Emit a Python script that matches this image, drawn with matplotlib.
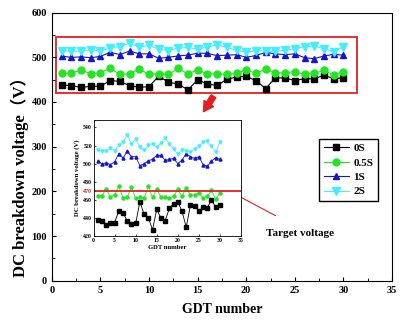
import matplotlib
matplotlib.use("Agg")
from matplotlib import pyplot as plt
import numpy as np

plt.rcParams['font.family'] = ['Liberation Serif', 'DejaVu Serif']
plt.rcParams['font.weight'] = 'bold'

# data
gdt = list(range(1, 31))
v_0s = [438, 436.5, 432.5, 435, 435, 448, 446, 436.5, 433, 434,
        458, 444, 440.5, 427, 449.5, 440, 437, 450.5, 456, 457.5,
        447.5, 430, 454, 453.5, 448, 452, 451.5, 460, 452, 454]
v_05s = [463.8, 464.6, 472, 462.7, 465.7, 475, 462, 463, 474, 461.6,
         463.5, 461.6, 475, 462.7, 472, 462.7, 462.7, 462, 464, 471.5,
         464, 473.4, 465, 465.3, 468, 461.6, 464, 470.5, 460.5, 467.5]
v_1s = [503, 499.6, 501, 499, 502, 511, 506, 514, 507.7, 507.7,
        497.7, 500, 503, 505, 509, 509, 503.6, 504.7, 505.8, 500,
        504, 511, 507.7, 505.8, 507.7, 499, 497, 503, 506.5, 504.7]
v_2s = [515, 513.5, 514, 517, 514, 520.5, 524, 531.6, 522, 527,
        518, 515, 520.5, 522, 518, 523, 528, 522, 516, 511,
        515, 514, 513, 516, 519, 524, 525, 519, 512.5, 524]
labels = ["0S", "0.5S", "1S", "2S"]
target = 470

series = [v_0s, v_05s, v_1s, v_2s]
colors = ['black', '#22e622', '#1515cc', '#44eeff']
markers = ['s', 'o', '^', 'v']
msizes = [4.2, 5, 5, 5.5]

fig = plt.figure(figsize=(4.05, 3.23), dpi=100)
ax = fig.add_axes([0.128, 0.131, 0.840, 0.830])

for y, c, m, ms, lab in zip(series, colors, markers, msizes, labels):
    ax.plot(gdt, y, color=c, marker=m, markersize=ms, linewidth=0.8, label=lab)

ax.set_xlim(0, 35)
ax.set_ylim(0, 600)
ax.set_xticks(np.arange(0, 36, 5))
ax.set_xticks(np.arange(0, 36, 2.5), minor=True)
ax.set_yticks(np.arange(0, 601, 100))
ax.set_yticks(np.arange(0, 601, 50), minor=True)
ax.tick_params(direction='in', labelsize=7.5, length=3, width=0.8)
ax.tick_params(which='minor', direction='in', length=2, width=0.6)
for s in ax.spines.values():
    s.set_linewidth(0.8)
ax.set_xlabel("GDT number", fontsize=10, fontweight='bold', labelpad=6)
ax.set_ylabel("DC breakdown voltage（V）", fontsize=12, fontweight='bold',
              family=['Liberation Serif', 'Noto Sans CJK SC'])
ax.yaxis.set_label_coords(-0.066, 0.40)

# red box around the data
ax.add_patch(plt.Rectangle((0.4, 420), 31.0, 126, fill=False,
                           edgecolor='#e02020', linewidth=1.3))

ax.legend(loc='upper left', bbox_to_anchor=(0.788, 0.570),
          bbox_transform=fig.transFigure, fontsize=8, handlelength=2.3,
          fancybox=False, edgecolor='black', framealpha=1, borderaxespad=0,
          borderpad=0.4, labelspacing=0.42, handletextpad=0.4)

# big red arrow
ax.annotate("", xy=(202, 209), xytext=(215, 229), xycoords='figure pixels',
            textcoords='figure pixels',
            arrowprops=dict(arrowstyle='simple,head_length=0.7,head_width=0.8,tail_width=0.4',
                            color='#e02020'))

# inset
axi = fig.add_axes([0.231, 0.269, 0.364, 0.359])
for y, c, m in zip(series, colors, markers):
    axi.plot(gdt, y, color=c, marker=m, markersize=2.2, linewidth=0.6)
axi.axhline(target, color='#e02020', linewidth=1.3)
axi.set_xlim(0, 35)
axi.set_ylim(420, 548)
axi.set_xticks(np.arange(0, 36, 5))
axi.set_yticks([420, 440, 460, 470, 480, 500, 520, 540])
axi.tick_params(direction='in', labelsize=4.2, length=1.5, width=0.5, pad=1)
for s in axi.spines.values():
    s.set_linewidth(0.6)
for t in axi.get_yticklabels():
    if t.get_text() == "470":
        t.set_color('#e02020')
axi.set_xlabel("GDT number", fontsize=4.8, fontweight='bold', labelpad=2)
axi.set_ylabel("DC breakdown voltage (V)", fontsize=4.8, fontweight='bold', labelpad=2)

# target voltage pointer
fig.text(300 / 405, 89 / 323, "Target voltage", fontsize=8, fontweight='bold',
         ha='center', va='center')
ax.annotate("", xy=(231, 131), xytext=(278, 106), xycoords='figure pixels',
            textcoords='figure pixels',
            arrowprops=dict(arrowstyle='->', color='#e02020', linewidth=0.8))

fig.savefig("out.png", dpi=100)
